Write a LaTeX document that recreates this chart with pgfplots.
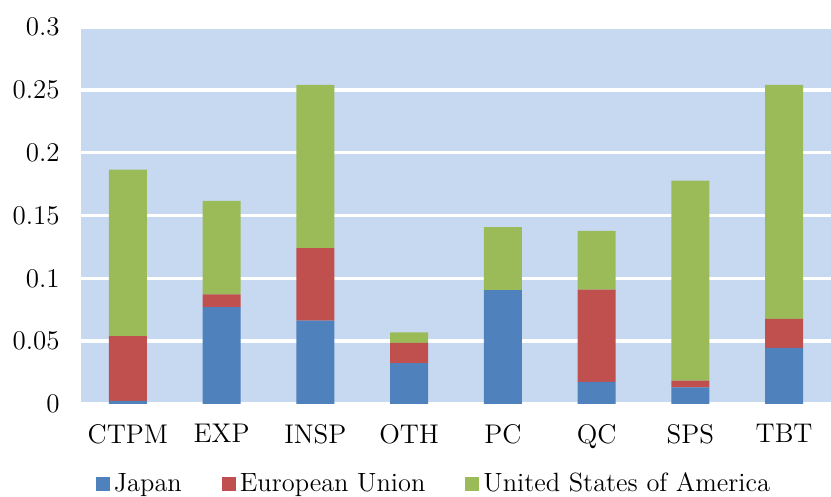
\documentclass[border=0pt]{standalone}
\usepackage{fontspec}
\usepackage{pgfplots}
\pgfplotsset{compat=1.18}
\definecolor{cJ}{HTML}{4F81BD}
\definecolor{cE}{HTML}{C0504D}
\definecolor{cU}{HTML}{9BBB59}
\definecolor{bg}{HTML}{C6D9F1}
\begin{document}
\begin{tikzpicture}
\useasboundingbox (-40.5pt,-46.5pt) rectangle (375pt,202pt);
\begin{axis}[at={(0,0)}, anchor=south west, scale only axis,
 width=375pt, height=188.5pt,
 ybar stacked, bar width=19pt,
 xmin=-0.5, xmax=7.5, ymin=0, ymax=0.3,
 xtick={0,...,7}, xticklabels={CTPM,EXP,INSP,OTH,PC,QC,SPS,TBT},
 ytick={0,0.05,0.1,0.15,0.2,0.25,0.3},
 yticklabels={0,0.05,0.1,0.15,0.2,0.25,0.3},
 axis background/.style={fill=bg},
 axis line style={draw=none},
 major tick length=0pt,
 ymajorgrids, major grid style={white, line width=1.7pt},
 tick label style={font=\fontsize{13.5}{16}\selectfont},
 yticklabel style={inner sep=0pt, xshift=-10.5pt},
 xticklabel style={inner sep=0pt, yshift=-10pt},
 legend style={at={(0.472,-0.212)}, anchor=center, draw=none, fill=none,
   legend columns=3, font=\fontsize{13.2}{15}\selectfont,
   /tikz/every even column/.append style={column sep=18pt}},
 legend image code/.code={\fill[#1] (0pt,-3.5pt) rectangle (7pt,3.5pt);},
]
\addplot[fill=cJ, draw=none] coordinates {(0,0.0024) (1,0.0770) (2,0.0664) (3,0.0325) (4,0.0907) (5,0.0177) (6,0.0132) (7,0.0447)};
\addplot[fill=cE, draw=none] coordinates {(0,0.0516) (1,0.0103) (2,0.0576) (3,0.0162) (4,0.0) (5,0.0733) (6,0.0053) (7,0.0230)};
\addplot[fill=cU, draw=none] coordinates {(0,0.1325) (1,0.0743) (2,0.1300) (3,0.0082) (4,0.0500) (5,0.0468) (6,0.1593) (7,0.1863)};
\legend{Japan, European Union, United States of America}
\end{axis}
\end{tikzpicture}
\end{document}
